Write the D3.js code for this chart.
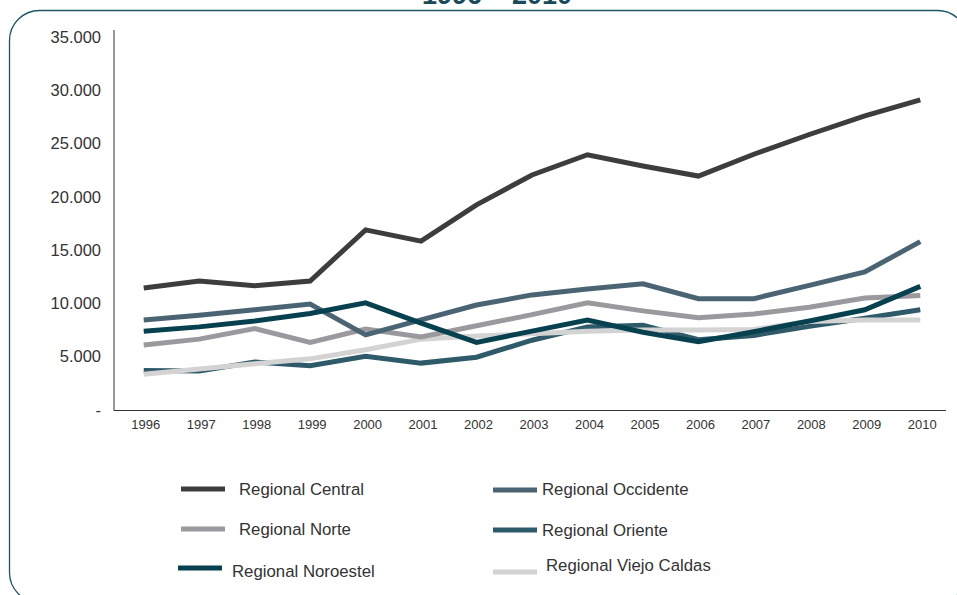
<!DOCTYPE html>
<html>
<head>
<meta charset="utf-8">
<script src="https://cdn.jsdelivr.net/npm/d3@7"></script>
<style>
  body { margin: 0; background: #fff; }
  svg { display: block; font-family: "Liberation Sans", Arial, sans-serif; }
</style>
</head>
<body>
<svg id="chart" width="957" height="595"></svg>
<script>
const years = [1996, 1997, 1998, 1999, 2000, 2001, 2002, 2003, 2004, 2005, 2006, 2007, 2008, 2009, 2010];
const yTicks = [0, 5000, 10000, 15000, 20000, 25000, 30000, 35000];

const central    = [11450, 12100, 11650, 12100, 16900, 15850, 19250, 22050, 23950, 22900, 21950, 24000, 25850, 27600, 29100];
const occidente  = [8450, 8900, 9400, 9950, 7050, 8450, 9850, 10800, 11350, 11850, 10450, 10450, 11700, 12950, 15800];
const norte      = [6100, 6650, 7650, 6350, 7600, 6850, 7900, 8950, 10050, 9300, 8650, 9000, 9650, 10500, 10750];
const noroestel  = [7400, 7800, 8350, 9050, 10050, 8150, 6350, 7400, 8450, 7300, 6400, 7350, 8350, 9400, 11600];
const oriente    = [3700, 3650, 4500, 4150, 5050, 4400, 4950, 6550, 7800, 7950, 6600, 7000, 7850, 8600, 9400];
const viejoCaldas = [3350, 3850, 4350, 4800, 5650, 6650, 6950, 7150, 7400, 7500, 7500, 7550, 8300, 8450, 8450];

const seriesNames = ["Regional Central", "Regional Occidente", "Regional Norte", "Regional Oriente", "Regional Noroestel", "Regional Viejo Caldas"];
const seriesValues = [central, occidente, norte, oriente, noroestel, viejoCaldas];
const colors = ["#3d3d3d", "#4a6474", "#9a9a9e", "#2f5a6a", "#07404f", "#d3d3d3"];

// draw order (bottom to top)
const drawOrder = [3, 5, 2, 1, 4, 0];

// legend placement per item: [swatch x, swatch y, text x, text y]
const legendPos = [
  [181, 489, 239, 489],
  [493, 490, 542, 489],
  [181, 529, 239, 529],
  [493, 530, 542, 530],
  [178, 568, 232, 571],
  [493, 572, 546, 565]
];

const svg = d3.select("#chart");

// frame
svg.append("rect")
  .attr("x", 9.5).attr("y", 10.5)
  .attr("width", 958).attr("height", 592)
  .attr("rx", 30).attr("ry", 30)
  .attr("fill", "none")
  .attr("stroke", "#1d5565")
  .attr("stroke-width", 1.3);

// title, cut off at the top edge as in the source
svg.append("text")
  .attr("x", 497).attr("y", 4)
  .attr("text-anchor", "middle")
  .attr("font-size", 27)
  .attr("font-weight", "bold")
  .attr("fill", "#1b4a5a")
  .text("1996 – 2010");

const x = d3.scaleBand().domain(years).range([116, 948]);
const y = d3.scaleLinear().domain([0, 35000]).range([410, 37]);

const fmt = v => v === 0 ? "-" : d3.format(",")(v).replace(/,/g, ".");

const yAxis = svg.append("g")
  .attr("transform", "translate(114,0)")
  .call(d3.axisLeft(y).tickValues(yTicks).tickSize(0).tickPadding(13).tickFormat(fmt));
yAxis.select(".domain").attr("stroke", "#333").attr("d", "M0,30V410.5");
yAxis.selectAll("text").attr("font-size", 16.5).attr("fill", "#333");

const xAxis = svg.append("g")
  .attr("transform", "translate(0,410)")
  .call(d3.axisBottom(x).tickSize(0).tickPadding(10));
xAxis.select(".domain").attr("stroke", "#333").attr("d", "M114,0.5H946");
xAxis.selectAll("text").attr("font-size", 13).attr("fill", "#333").attr("dx", 2);

const line = d3.line()
  .x((d, i) => x(years[i]) + x.bandwidth() / 2)
  .y(d => y(d));

svg.append("g").selectAll("path")
  .data(drawOrder)
  .join("path")
  .attr("d", i => line(seriesValues[i]))
  .attr("fill", "none")
  .attr("stroke", i => colors[i])
  .attr("stroke-width", 5);

// legend
const legend = svg.append("g");
seriesNames.forEach((name, i) => {
  const p = legendPos[i];
  legend.append("line")
    .attr("x1", p[0]).attr("x2", p[0] + 44)
    .attr("y1", p[1]).attr("y2", p[1])
    .attr("stroke", colors[i]).attr("stroke-width", 5);
  legend.append("text")
    .attr("x", p[2]).attr("y", p[3])
    .attr("dy", "0.35em")
    .attr("font-size", 16.8)
    .attr("fill", "#333")
    .text(name);
});
</script>
</body>
</html>
